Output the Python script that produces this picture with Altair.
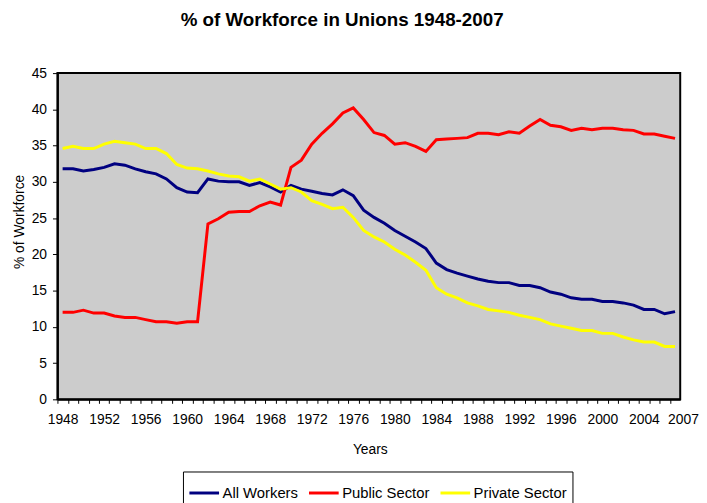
import altair as alt
import pandas as pd

years = list(range(1948, 2008))

all_workers = [31.8, 31.8, 31.5, 31.7, 32.0, 32.5, 32.3, 31.8, 31.4, 31.1,
               30.4, 29.2, 28.6, 28.5, 30.4, 30.1, 30.0, 30.0, 29.5, 29.9,
               29.3, 28.6, 29.5, 29.0, 28.7, 28.4, 28.2, 28.9, 28.1, 26.1,
               25.1, 24.3, 23.3, 22.5, 21.7, 20.8, 18.8, 17.9, 17.4, 17.0,
               16.6, 16.3, 16.1, 16.1, 15.7, 15.7, 15.4, 14.8, 14.5, 14.0,
               13.8, 13.8, 13.5, 13.5, 13.3, 13.0, 12.4, 12.4, 11.8, 12.1]

public_sector = [12.0, 12.0, 12.3, 11.9, 11.9, 11.5, 11.3, 11.3, 11.0, 10.7,
                 10.7, 10.5, 10.7, 10.7, 24.2, 24.9, 25.8, 25.9, 25.9, 26.7,
                 27.2, 26.8, 32.0, 33.0, 35.2, 36.7, 38.0, 39.5, 40.2, 38.6,
                 36.8, 36.4, 35.2, 35.4, 34.9, 34.2, 35.8, 35.9, 36.0, 36.1,
                 36.7, 36.7, 36.5, 36.9, 36.7, 37.7, 38.6, 37.8, 37.6, 37.1,
                 37.4, 37.2, 37.4, 37.4, 37.2, 37.1, 36.6, 36.6, 36.3, 36.0]

private_sector = [34.6, 34.9, 34.6, 34.6, 35.2, 35.6, 35.4, 35.2, 34.6, 34.6,
                  33.9, 32.4, 31.9, 31.8, 31.5, 31.1, 30.8, 30.7, 30.1, 30.4,
                  29.7, 29.0, 29.2, 28.6, 27.4, 26.9, 26.3, 26.5, 25.1, 23.3,
                  22.4, 21.7, 20.7, 19.9, 18.9, 17.8, 15.4, 14.5, 14.0, 13.3,
                  12.9, 12.4, 12.2, 12.0, 11.6, 11.3, 11.0, 10.4, 10.1, 9.8,
                  9.5, 9.5, 9.1, 9.1, 8.6, 8.2, 7.9, 7.9, 7.3, 7.3]

series_names = ["All Workers", "Public Sector", "Private Sector"]
series_colors = ["#000080", "#ff0000", "#ffff00"]
x_label_years = [1948, 1952, 1956, 1960, 1964, 1968, 1972, 1976, 1980,
                 1984, 1988, 1992, 1996, 2000, 2004, 2007]
y_ticks = [0, 5, 10, 15, 20, 25, 30, 35, 40, 45]

rows = []
for name, vals in zip(series_names, [all_workers, public_sector, private_sector]):
    for yr, v in zip(years, vals):
        rows.append({"Year": yr, "Series": name, "Value": v})
df = pd.DataFrame(rows)

FONT = "Liberation Sans"
W, H = 630, 330
half = W / 120.0

label_list = "[" + ",".join(str(v) for v in x_label_years) + "]"

x_enc = alt.X(
    "Year:Q",
    scale=alt.Scale(domain=[1947.5, 2007.5], nice=False, zero=False),
    axis=alt.Axis(
        values=years,
        format="d",
        labelExpr=f"indexof({label_list}, datum.value) >= 0 ? datum.label : ''",
        labelOverlap=False,
        labelFlush=False,
        tickOffset=-half,
        labelOffset={"condition": {"test": "datum.value == 2007", "value": half + 8},
                     "value": half},
        tickSize=4,
        tickColor="black",
        tickWidth=1,
        domainColor="black",
        domainWidth=2,
        labelFont=FONT,
        labelFontSize=14,
        labelColor="black",
        labelPadding=9,
        grid=False,
        title="Years",
        titleFont=FONT,
        titleFontSize=14,
        titleFontWeight="normal",
        titleColor="black",
        titleX=316,
        titleY=51,
        titleBaseline="middle",
    ),
)

y_enc = alt.Y(
    "Value:Q",
    scale=alt.Scale(domain=[0, 45], nice=False),
    axis=alt.Axis(
        values=y_ticks,
        tickSize=5,
        tickColor="black",
        tickWidth=1,
        domainColor="black",
        domainWidth=2,
        labelFont=FONT,
        labelFontSize=14,
        labelColor="black",
        labelPadding=6,
        grid=False,
        title="% of Workforce",
        titleFont=FONT,
        titleFontSize=14,
        titleFontWeight="normal",
        titleColor="black",
        titleX=-38,
        titleY=150,
        titleBaseline="middle",
    ),
)

color_enc = alt.Color(
    "Series:N",
    scale=alt.Scale(domain=series_names, range=series_colors),
    legend=alt.Legend(
        title=None,
        orient="none",
        legendX=127,
        legendY=403,
        direction="horizontal",
        symbolType="stroke",
        symbolSize=900,
        symbolStrokeWidth=3,
        labelFont=FONT,
        labelFontSize=15,
        labelColor="black",
        labelOffset=2,
        columnPadding=4,
        padding=5,
        strokeColor="black",
        fillColor="white",
        labelLimit=300,
    ),
)

base = alt.Chart(df).mark_line(strokeWidth=3).encode(
    x=x_enc, y=y_enc, color=color_enc
)

layers = [base.transform_filter(alt.datum.Series == s) for s in series_names]

chart = alt.layer(*layers).properties(
    width=W,
    height=H,
    autosize=alt.AutoSizeParams(type="none"),
    padding={"left": 50, "top": 63, "right": 19, "bottom": 102},
    title=alt.TitleParams(
        "% of Workforce in Unions 1948-2007",
        font=FONT,
        fontSize=19,
        fontWeight="bold",
        color="black",
        anchor="middle",
        frame="group",
        dx=-27,
        offset=22,
        baseline="alphabetic",
    ),
).configure(
    background="white"
).configure_view(
    fill="#cccccc",
    stroke="black",
    strokeWidth=2,
)

chart.save("out.html", embed_options={"renderer": "svg", "actions": False})
